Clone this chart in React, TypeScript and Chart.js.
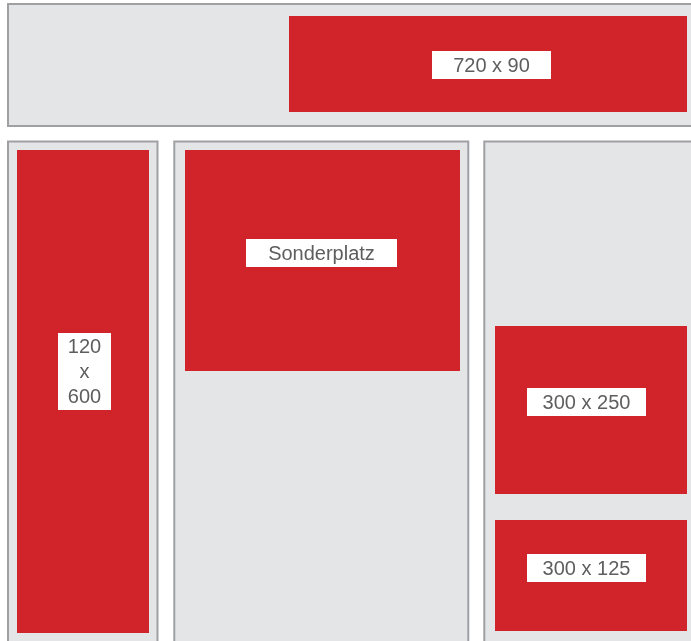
import React, { useEffect, useRef } from "react";
import { Chart, registerables } from "chart.js";

Chart.register(...registerables);

// Frames (gray placement areas), in layout units
const frameNames = ["Header", "Links", "Mitte", "Rechts"];
const frameX0 = [8, 8, 174.3, 484.3];
const frameX1 = [720, 157.5, 468.3, 720];
const frameY0 = [4, 141.5, 141.5, 141.5];
const frameY1 = [126, 680, 680, 680];

// Ad slots (red)
const slotNames = ["720 x 90", "120\nx\n600", "Sonderplatz", "300 x 250", "300 x 125"];
const slotX0 = [289, 17, 185, 495, 495];
const slotX1 = [687, 149, 460, 687, 687];
const slotY0 = [16, 150, 150, 326, 520];
const slotY1 = [112, 633, 371, 494, 631];

// Label boxes (white)
const labelX0 = [432, 58, 246, 527, 527];
const labelX1 = [551, 111, 397, 646, 646];
const labelY0 = [51, 333, 239, 388, 554];
const labelY1 = [79, 410, 267, 416, 582];

const FRAME_FILL = "#e4e5e7";
const FRAME_BORDER = "#9fa0a3";
const RED = "#d1232a";
const TEXT = "#5e5e5e";

const layoutPlugin = {
  id: "layoutPlugin",
  beforeDatasetsDraw(chart: any) {
    const { ctx, scales } = chart;
    const xs = scales.x;
    const ys = scales.y;
    const px = (v: number) => xs.getPixelForValue(v);
    const py = (v: number) => ys.getPixelForValue(v);
    ctx.save();
    // frames
    for (let i = 0; i < frameNames.length; i++) {
      const x0 = px(frameX0[i]);
      const x1 = px(frameX1[i]);
      const y0 = py(frameY0[i]);
      const y1 = py(frameY1[i]);
      ctx.fillStyle = FRAME_FILL;
      ctx.fillRect(x0, y0, x1 - x0, y1 - y0);
      ctx.strokeStyle = FRAME_BORDER;
      ctx.lineWidth = 2;
      ctx.strokeRect(x0, y0, x1 - x0, y1 - y0);
    }
    // slots
    for (let i = 0; i < slotNames.length; i++) {
      const x0 = px(slotX0[i]);
      const x1 = px(slotX1[i]);
      const y0 = py(slotY0[i]);
      const y1 = py(slotY1[i]);
      ctx.fillStyle = RED;
      ctx.fillRect(x0, y0, x1 - x0, y1 - y0);
      const lx0 = px(labelX0[i]);
      const lx1 = px(labelX1[i]);
      const ly0 = py(labelY0[i]);
      const ly1 = py(labelY1[i]);
      ctx.fillStyle = "#ffffff";
      ctx.fillRect(lx0, ly0, lx1 - lx0, ly1 - ly0);
      ctx.fillStyle = TEXT;
      ctx.font = "20px 'Liberation Sans', Arial, sans-serif";
      ctx.textAlign = "center";
      ctx.textBaseline = "middle";
      const lines = slotNames[i].split("\n");
      const lh = 25;
      const cx = (lx0 + lx1) / 2;
      const cy = (ly0 + ly1) / 2;
      lines.forEach((ln, k) => {
        ctx.fillText(ln, cx, cy + (k - (lines.length - 1) / 2) * lh + 1);
      });
    }
    ctx.restore();
  },
};

export default function App() {
  const ref = useRef<HTMLCanvasElement | null>(null);
  useEffect(() => {
    document.body.style.margin = "0";
    document.body.style.overflow = "hidden";
    const canvas = ref.current;
    if (!canvas) return;
    const chart = new Chart(canvas, {
      type: "scatter",
      data: {
        datasets: [
          {
            label: "Werbeplätze",
            data: slotNames.map((_, i) => ({
              x: (slotX0[i] + slotX1[i]) / 2,
              y: (slotY0[i] + slotY1[i]) / 2,
            })),
            pointRadius: 0,
            pointHoverRadius: 0,
          },
        ],
      },
      options: {
        responsive: false,
        animation: false,
        devicePixelRatio: 1,
        layout: { padding: 0 },
        plugins: { legend: { display: false }, tooltip: { enabled: false } },
        scales: {
          x: { type: "linear", min: 0, max: 691, display: false },
          y: { type: "linear", min: 0, max: 641, reverse: true, display: false },
        },
      },
      plugins: [layoutPlugin],
    });
    return () => chart.destroy();
  }, []);
  return (
    <div style={{ width: 691, height: 641, background: "#ffffff" }}>
      <canvas ref={ref} width={691} height={641} style={{ display: "block" }} />
    </div>
  );
}
